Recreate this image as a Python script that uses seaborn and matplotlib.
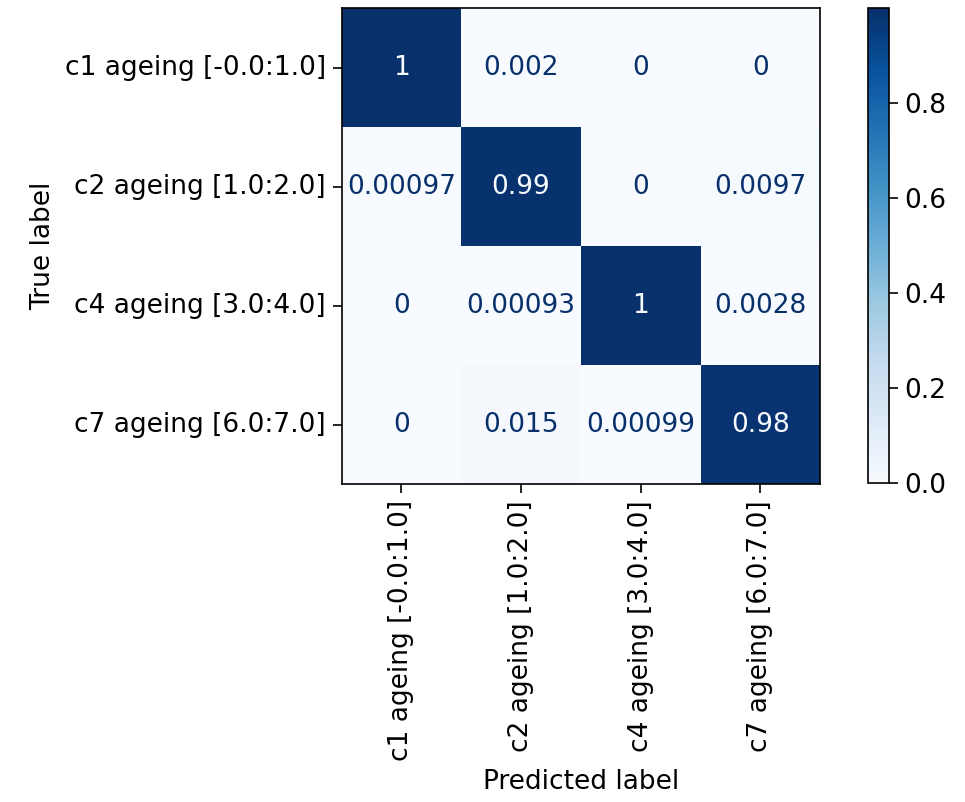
import numpy as np
import pandas as pd
import matplotlib
matplotlib.use('Agg')
import matplotlib.pyplot as plt
import seaborn as sns

# class names (rows = true, cols = predicted)
classes = ['c1 ageing [-0.0:1.0]', 'c2 ageing [1.0:2.0]', 'c4 ageing [3.0:4.0]', 'c7 ageing [6.0:7.0]']

# normalised confusion matrix rows
row_c1 = [0.998, 0.002, 0.0, 0.0]
row_c2 = [0.00097, 0.9893, 0.0, 0.0097]
row_c4 = [0.0, 0.00093, 0.99627, 0.0028]
row_c7 = [0.0, 0.015, 0.00099, 0.984]

cm = pd.DataFrame([row_c1, row_c2, row_c4, row_c7], index=classes, columns=classes)

fs = 19
plt.rcParams['font.family'] = ['DejaVu Sans']
plt.rcParams['font.size'] = fs

fig = plt.figure(figsize=(9.65, 8.02), dpi=100)
ax = fig.add_axes([0.354, 0.3965, 0.496, 0.5935])
cax = fig.add_axes([0.899, 0.3975, 0.022, 0.592])

cmap = plt.get_cmap('Blues')
vmax = cm.values.max()
sns.heatmap(cm, ax=ax, cbar_ax=cax, cmap=cmap, vmin=0, vmax=vmax,
            annot=True, fmt='.2g', annot_kws={'fontsize': fs}, square=False)

# sklearn style text colours: light text on dark cells, dark text on light cells
thresh = vmax / 2.0
for t, v in zip(ax.texts, cm.values.ravel()):
    t.set_color(cmap(0.0) if v > thresh else cmap(1.0))

for sp in ax.spines.values():
    sp.set_visible(True)
    sp.set_color('black')
    sp.set_linewidth(1.2)

ax.tick_params(axis='both', which='both', length=6.5, width=1.2, pad=5, color='black', labelsize=fs)
ax.set_xticklabels(classes, rotation=90)
ax.set_yticklabels(classes, rotation=0)
ax.set_xlabel('Predicted label', fontsize=fs, labelpad=6)
ax.set_ylabel('True label', fontsize=fs, labelpad=6)

cb = ax.collections[0].colorbar
cb.set_ticks([0.0, 0.2, 0.4, 0.6, 0.8])
cb.ax.tick_params(labelsize=fs, length=6.5, width=1.2, pad=5)
cb.outline.set_visible(True)
cb.outline.set_edgecolor('black')
cb.outline.set_linewidth(1.2)

fig.savefig('out.png', dpi=100)
